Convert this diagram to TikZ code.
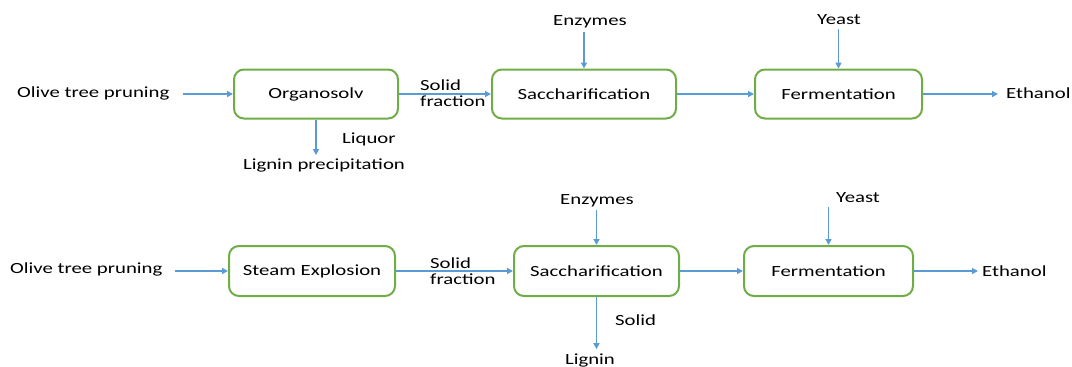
\documentclass[tikz,border=0pt]{standalone}
\usepackage{fontspec}
\setmainfont{Carlito}[FakeStretch=1.34]
\usetikzlibrary{arrows.meta}
\definecolor{boxgreen}{HTML}{70AD47}
\definecolor{arrblue}{HTML}{5B9BD5}
\begin{document}
\begin{tikzpicture}[x=1pt,y=-1pt,
  every node/.style={font=\fontsize{15.5}{16}\selectfont, inner sep=0pt, text=black},
  procbox/.style={draw=boxgreen, line width=2pt, rounded corners=10pt, minimum height=49pt, fill=white},
  arr/.style={draw=arrblue, line width=1.8pt, -{Triangle[length=6pt,width=6pt]}},
  lbl/.style={align=left}]
\useasboundingbox (0,0) rectangle (1072,367);
% Row 1
\node[anchor=west] (olive1) at (17,93) {Olive tree pruning};
\node[procbox, minimum width=164pt] (org) at (316,94) {Organosolv};
\node[procbox, minimum width=184pt] (sac1) at (584,94) {Saccharification};
\node[procbox, minimum width=167pt] (fer1) at (838.5,94) {Fermentation};
\node[anchor=west] (eth1) at (1006,93) {Ethanol};
\node[lbl, anchor=west] (sol1) at (420,93.5) {Solid\\fraction};
\node (enz1) at (590,22) {Enzymes};
\node (yeast1) at (839,20) {Yeast};
\node[anchor=west] (liq1) at (342,139) {Liquor};
\node (lig1) at (324,165) {Lignin precipitation};
\draw[arr, shorten <=13pt] (olive1.east |- org.west) -- (org.west);
\draw[arr] (org.east) -- (sac1.west);
\draw[arr] (sac1.east) -- (fer1.west);
\draw[arr, shorten >=8pt] (fer1.east) -- (eth1.west |- fer1.east);
\draw[arr, shorten <=4pt] (enz1.south -| sac1.north) -- (sac1.north);
\draw[arr, shorten <=4pt] (yeast1.south -| fer1.north) -- (fer1.north);
\draw[arr, shorten >=3pt] (org.south) -- (org.south |- lig1.north);
% Row 2
\node[anchor=west] (olive2) at (10,269) {Olive tree pruning};
\node[procbox, minimum width=166pt, minimum height=50pt] (steam) at (312,271) {Steam Explosion};
\node[procbox, minimum width=165pt, minimum height=50pt] (sac2) at (596.5,271) {Saccharification};
\node[procbox, minimum width=169pt, minimum height=50pt] (fer2) at (828.5,271) {Fermentation};
\node[anchor=west] (eth2) at (982,271) {Ethanol};
\node[lbl, anchor=west] (sol2) at (430,271) {Solid\\fraction};
\node (enz2) at (597,201) {Enzymes};
\node (yeast2) at (858,198) {Yeast};
\node[anchor=west] (solid2) at (615,320) {Solid};
\node (lign2) at (590,360) {Lignin};
\draw[arr, shorten <=12pt] (olive2.east |- steam.west) -- (steam.west);
\draw[arr] (steam.east) -- (sac2.west);
\draw[arr] (sac2.east) -- (fer2.west);
\draw[arr, shorten >=4pt] (fer2.east) -- (eth2.west |- fer2.east);
\draw[arr, shorten <=3pt] (enz2.south -| sac2.north) -- (sac2.north);
\draw[arr, shorten <=4pt] (yeast2.south -| fer2.north) -- (fer2.north);
\draw[arr, shorten >=4pt] (sac2.south) -- (sac2.south |- lign2.north);
\end{tikzpicture}
\end{document}
